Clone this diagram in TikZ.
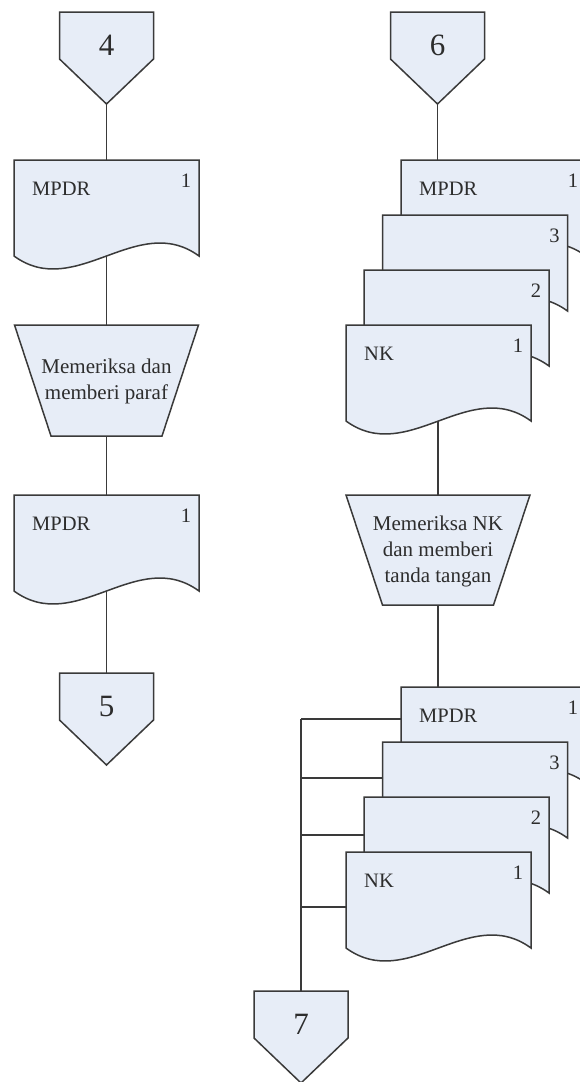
\documentclass[tikz,border=0pt]{standalone}
\usepackage{fontspec}
\setmainfont{Liberation Serif}
\usetikzlibrary{calc}

\definecolor{sheetfill}{RGB}{231,237,247}
\definecolor{inkline}{RGB}{58,58,58}
\definecolor{inktext}{RGB}{45,45,45}

\tikzset{
  shapeline/.style={draw=inkline, fill=sheetfill, line width=1.5pt, line join=miter},
  flowline/.style={draw=inkline, line width=1.5pt},
  doctext/.style={inner sep=0pt, text=inktext, font=\fontsize{20.5}{24}\selectfont},
  numtext/.style={inner sep=0pt, text=inktext, font=\fontsize{31}{36}\selectfont},
  optext/.style={inner sep=0pt, text=inktext, align=center, font=\fontsize{21}{26}\selectfont},
}

% off-page connector: name, centre x, top y, label
\newcommand{\OffPage}[4]{%
  \filldraw[shapeline] (#2-47,#3) -- (#2+47,#3) -- (#2+47,#3+47) -- (#2,#3+92) -- (#2-47,#3+47) -- cycle;
  \node[numtext] (#1) at (#2,#3+33) {#4};
  \coordinate (#1-top) at (#2,#3);
  \coordinate (#1-tip) at (#2,#3+92);
}

% document sheet: name, left x, top y, title, copy number
\newcommand{\DocSheet}[5]{%
  \filldraw[shapeline] (#2,#3) -- (#2+185,#3) -- (#2+185,#3+96)
     .. controls (#2+123.3,#3+51) and (#2+61.7,#3+141) .. (#2,#3+96) -- cycle;
  \coordinate (#1-nw) at (#2,#3);
  \coordinate (#1-bot) at (#2+92.5,#3+96);
  \node[doctext, anchor=west] (#1-lbl) at (#2+18,#3+29) {#4};
  \node[doctext] (#1-num) at (#2+172,#3+21) {#5};
}

% manual operation: name, centre x, top y, height, text
\newcommand{\ManualOp}[5]{%
  \filldraw[shapeline] (#2-92,#3) -- (#2+92,#3) -- (#2+55.5,#3+#4) -- (#2-55.5,#3+#4) -- cycle;
  \node[optext] (#1) at (#2,#3+#4/2+1) {#5};
  \coordinate (#1-top) at (#2,#3);
  \coordinate (#1-bot) at (#2,#3+#4);
}

\begin{document}
\begin{tikzpicture}[x=1pt,y=-1pt]
\useasboundingbox[fill=white] (0,0) rectangle (580,1082);
\clip (0,0) rectangle (580,1082);

% ---- left flow: 4 -> MPDR -> check -> MPDR -> 5
\OffPage{c4}{106.5}{12}{4}
\DocSheet{a1}{14}{160}{MPDR}{1}
\ManualOp{p1}{106.5}{325}{111}{Memeriksa dan\\memberi paraf}
\DocSheet{a2}{14}{495}{MPDR}{1}
\OffPage{c5}{106.5}{673}{5}

\draw[flowline] (c4-tip) -- (c4-tip |- a1-nw);
\draw[flowline] (a1-bot) -- (p1-top);
\draw[flowline] (p1-bot) -- (p1-bot |- a2-nw);
\draw[flowline] (a2-bot) -- (c5-top);

% ---- right flow: 6 -> MPDR/NK set -> sign -> MPDR/NK set -> 7
\OffPage{c6}{437.5}{12}{6}
\DocSheet{b1}{401}{160}{MPDR}{1}
\DocSheet{b2}{382.5}{215}{}{3}
\DocSheet{b3}{364}{270}{}{2}
\DocSheet{b4}{346}{325}{NK}{1}
\ManualOp{p2}{438}{495}{110}{Memeriksa NK\\dan memberi\\tanda tangan}
\DocSheet{e1}{401}{687}{MPDR}{1}
\DocSheet{e2}{382.5}{742}{}{3}
\DocSheet{e3}{364}{797}{}{2}
\DocSheet{e4}{346}{852}{NK}{1}
\OffPage{c7}{301}{991}{7}

\draw[flowline] (c6-tip) -- (c6-tip |- b1-nw);
\draw[flowline] (p2-top |- b4-bot) -- (p2-top);
\draw[flowline] (p2-bot) -- (p2-bot |- e1-nw);

% collecting bus from the document set to connector 7
\coordinate (j1) at (301,719);
\coordinate (j2) at (301,778);
\coordinate (j3) at (301,835);
\coordinate (j4) at (301,907);
\draw[flowline] (j1) -- (c7-top);
\draw[flowline] (j1) -- (j1 -| e1-nw);
\draw[flowline] (j2) -- (j2 -| e2-nw);
\draw[flowline] (j3) -- (j3 -| e3-nw);
\draw[flowline] (j4) -- (j4 -| e4-nw);
\end{tikzpicture}
\end{document}
